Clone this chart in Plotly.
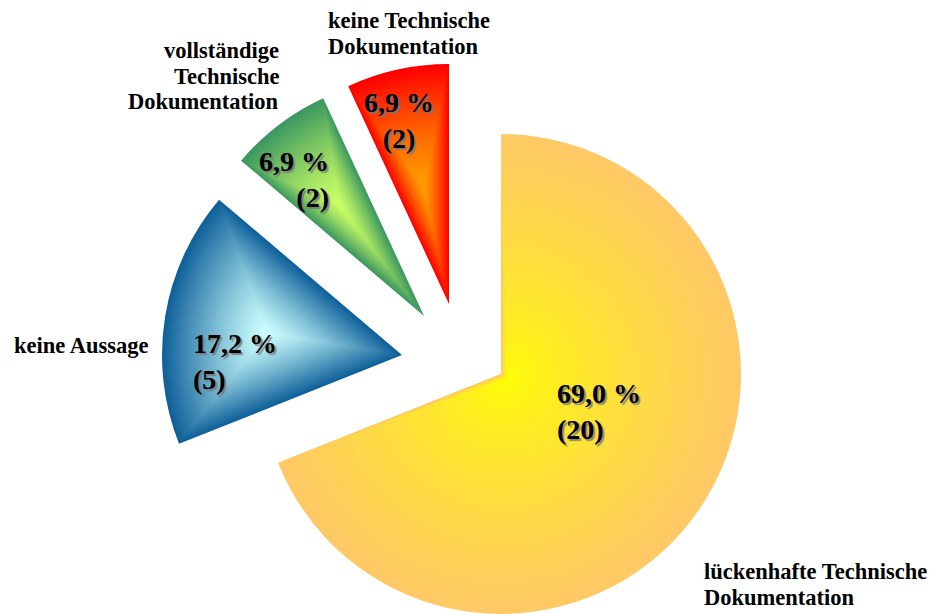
import numpy as np
import plotly.graph_objects as go

# ---- data -------------------------------------------------------------
categories = [
    "lückenhafte Technische Dokumentation",
    "keine Aussage",
    "vollständige Technische Dokumentation",
    "keine Technische Dokumentation",
]
counts = [20, 5, 2, 2]
label_lines = [
    ["lückenhafte Technische", "Dokumentation"],
    ["keine Aussage"],
    ["vollständige", "Technische", "Dokumentation"],
    ["keine Technische", "Dokumentation"],
]

# ---- layout / style ---------------------------------------------------
W, H = 933, 614
R = 240                 # pie radius in px
N_LAYERS = 40           # colour steps of the gradient fill
FONT = "Liberation Serif, Times New Roman, serif"

# apex of every exploded wedge (px, from top-left)
apex = [(501, 374), (402, 355), (424, 316), (449, 304)]
# where the gradient is brightest: 0 = wedge apex, 1 = wedge centroid
focus_mix = [0.12, 0.9, 0.88, 0.75]
edge_colors = ["#FFC966", "#10619A", "#3B9860", "#FF0000"]
center_colors = ["#FFFF00", "#CCFFFF", "#CCFF66", "#FF9C00"]
gamma = [0.75, 1.25, 1.3, 1.35]

# percent labels: (x px, y px, xanchor)
pct_pos = [(555, 411, "left"), (191, 361, "left"), (331, 179, "right"), (399, 121, "center")]
# category labels: first line (x px, centre y px, xanchor), line step px
cat_pos = [(702, 571, "left"), (12, 345, "left"), (281, 50, "right"), (326, 20, "left")]
cat_step = 26


def hex_rgb(h):
    h = h.lstrip("#")
    return np.array([int(h[i:i + 2], 16) for i in (0, 2, 4)], dtype=float)


def mix(c_in, c_out, t):
    a, b = hex_rgb(c_in), hex_rgb(c_out)
    c = a + (b - a) * t
    return "rgb(%d,%d,%d)" % tuple(np.clip(np.round(c), 0, 255))


def clamp01(v):
    return min(max(v, 0.0), 1.0)


total = float(sum(counts))
fracs = np.array(counts) / total
starts = np.concatenate([[0.0], np.cumsum(fracs)[:-1]]) * 2 * np.pi
mids = starts + fracs * np.pi
half = fracs * np.pi

fig = go.Figure()

for i in range(len(counts)):
    tx, ty = apex[i]
    th = mids[i]
    ux, uy = np.sin(th), -np.cos(th)
    dcent = 2 * R * np.sin(half[i]) / (3 * half[i])
    gx, gy = tx + ux * dcent, ty + uy * dcent
    fx = tx + focus_mix[i] * (gx - tx)
    fy = ty + focus_mix[i] * (gy - ty)
    for s in np.linspace(1.0, 1.0 / N_LAYERS, N_LAYERS):
        cx = fx + s * (tx - fx)
        cy = fy + s * (ty - fy)
        r = s * R
        col = mix(center_colors[i], edge_colors[i], s ** gamma[i])
        colors = [col if j == i else "rgba(0,0,0,0)" for j in range(len(counts))]
        fig.add_trace(go.Pie(
            values=counts,
            labels=categories,
            sort=False,
            direction="clockwise",
            rotation=0,
            marker=dict(colors=colors, line=dict(width=0)),
            textinfo="none",
            hoverinfo="skip",
            showlegend=False,
            domain=dict(
                x=[clamp01((cx - r) / W), clamp01((cx + r) / W)],
                y=[clamp01(1 - (cy + r) / H), clamp01(1 - (cy - r) / H)],
            ),
        ))

annotations = []
for i, v in enumerate(counts):
    pct = ("%.1f" % (100.0 * v / total)).replace(".", ",")
    x, y, xa = pct_pos[i]
    annotations.append(dict(
        text=f"{pct} %<br>({v})",
        x=x / W, y=1 - y / H, xref="paper", yref="paper",
        xanchor=xa, yanchor="middle", align=xa, showarrow=False,
        font=dict(family=FONT, size=28, color="black", weight="bold",
                  shadow="2px 2px 1px rgba(120,120,120,0.85)"),
    ))
    cx, cy, xa = cat_pos[i]
    for k, line in enumerate(label_lines[i]):
        annotations.append(dict(
            text=line,
            x=cx / W, y=1 - (cy + k * cat_step) / H, xref="paper", yref="paper",
            xanchor=xa, yanchor="middle", showarrow=False,
            font=dict(family=FONT, size=22.5, color="black", weight="bold"),
        ))

fig.update_layout(
    width=W, height=H,
    margin=dict(l=0, r=0, t=0, b=0),
    paper_bgcolor="white",
    plot_bgcolor="white",
    showlegend=False,
    annotations=annotations,
)

fig.write_html("out.html")
